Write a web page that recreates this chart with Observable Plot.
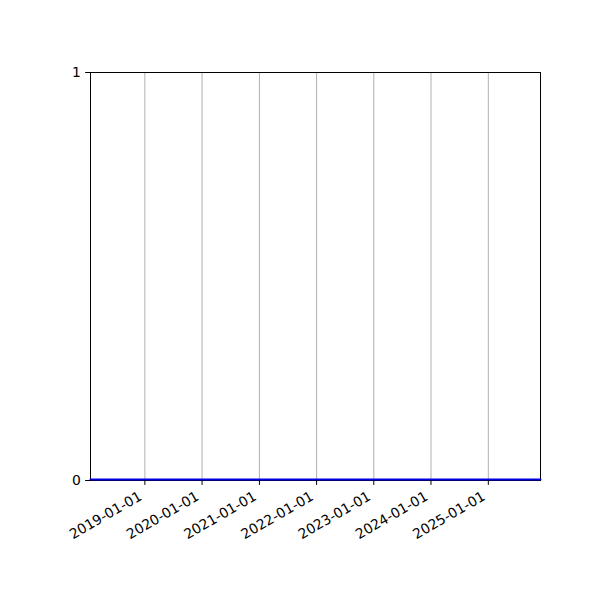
<!DOCTYPE html>
<html>
<head>
<meta charset="utf-8">
<script src="https://cdn.jsdelivr.net/npm/d3@7"></script>
<script src="https://cdn.jsdelivr.net/npm/@observablehq/plot@0.6"></script>
<style>
  html, body { margin: 0; padding: 0; background: #fff; }
</style>
</head>
<body>
<div id="chart"></div>
<script>
// Data (dates and values of the series, all zero)
const dates = ["2018-01-19", "2025-11-30"];
const values = [0, 0];
const xTicks = ["2019-01-01", "2020-01-01", "2021-01-01", "2022-01-01", "2023-01-01", "2024-01-01", "2025-01-01"];
const yTicks = [0, 1];

const parse = d3.utcParse("%Y-%m-%d");
const series = dates.map((d, i) => ({date: parse(d), value: values[i]}));
const tickDates = xTicks.map(parse);

const chart = Plot.plot({
  width: 600,
  height: 600,
  marginLeft: 90,
  marginRight: 60,
  marginTop: 72,
  marginBottom: 120,
  style: {fontFamily: "DejaVu Sans", fontSize: "13.9px", background: "#fff", color: "#000"},
  x: {type: "utc", domain: d3.extent(series, d => d.date), label: null},
  y: {domain: [0, 1], label: null},
  marks: [
    Plot.gridX(tickDates, {stroke: "#b0b0b0", strokeOpacity: 1, strokeWidth: 1}),
    Plot.frame({stroke: "#000", strokeWidth: 1}),
    Plot.line(series, {x: "date", y: "value", stroke: "#0000e0", strokeWidth: 2, dy: -1}),
    Plot.axisY({ticks: yTicks, tickFormat: d => String(d), tickSize: 4.86, tickPadding: 4.86, stroke: "#000", fontSize: 13.9, label: null}),
    Plot.axisX({ticks: tickDates, text: null, tickSize: 4.86, stroke: "#000", label: null}),
    Plot.text(tickDates, {
      x: d => d, frameAnchor: "bottom",
      text: d => d3.utcFormat("%Y-%m-%d")(d),
      rotate: -30, textAnchor: "end", lineAnchor: "top",
      dy: 10, dx: -7, fontSize: 13.9, fill: "#000"
    })
  ]
});
document.getElementById("chart").appendChild(chart);
</script>
</body>
</html>
